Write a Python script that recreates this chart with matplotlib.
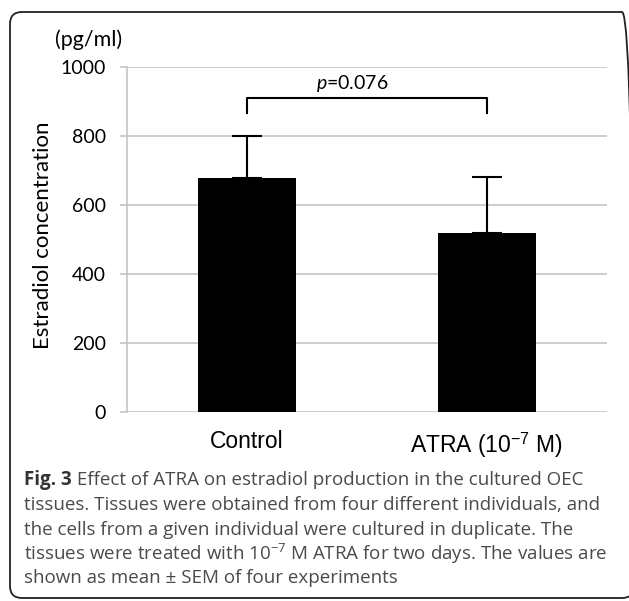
import numpy as np
import matplotlib
matplotlib.use('Agg')
import matplotlib.pyplot as plt
from matplotlib.path import Path
from matplotlib.patches import PathPatch
from matplotlib.transforms import IdentityTransform

# data
groups = ['Control', 'ATRA (10$^{\\mathsf{-7}}$ M)']
means = [677, 519]
sem = [122, 163]
yticks = [0, 200, 400, 600, 800, 1000]
p_label = '$p$=0.076'
bracket_top = 910
bracket_bottom = 866

caption = [
    'tissues. Tissues were obtained from four different individuals, and',
    'the cells from a given individual were cultured in duplicate. The',
    'tissues were treated with 10$^{\\mathtt{-7}}$ M ATRA for two days. The values are',
    'shown as mean \u00b1 SEM of four experiments',
]
caption_first = ' Effect of ATRA on estradiol production in the cultured OEC'

plt.rcParams['mathtext.fontset'] = 'custom'
plt.rcParams['mathtext.rm'] = 'Lato'
plt.rcParams['mathtext.it'] = 'Lato:italic'
plt.rcParams['mathtext.sf'] = 'Liberation Sans'
plt.rcParams['mathtext.tt'] = 'Open Sans'

W, H = 629, 601
fig = plt.figure(figsize=(W / 100, H / 100), dpi=100)
ax = fig.add_axes([127 / W, 1 - 412 / H, 480 / W, 345 / H])

x = np.arange(len(groups))
ax.bar(x, means, width=0.41, color='black', zorder=3)
ax.errorbar(x, means, yerr=[np.zeros(len(sem)), sem], fmt='none', ecolor='black',
            elinewidth=1.5, capsize=11, capthick=1.5, zorder=4)

ax.set_xlim(-0.5, 1.5)
ax.set_ylim(0, 1000)
ax.set_yticks(yticks)
ax.set_yticklabels([str(v) for v in yticks], fontfamily='Lato', fontsize=14)
ax.tick_params(axis='y', length=5, width=1.1, color='#c0c0c0', pad=10)
ax.set_xticks(x)
ax.set_xticklabels(groups, fontfamily='Liberation Sans', fontsize=16.5)
ax.tick_params(axis='x', length=0, pad=13)
ax.grid(axis='y', color='#c0c0c0', lw=1.1, zorder=0)
ax.set_axisbelow(True)
for s in ['top', 'right', 'bottom']:
    ax.spines[s].set_visible(False)
ax.spines['left'].set_color('#c0c0c0')
ax.spines['left'].set_linewidth(1.1)

ax.set_ylabel('Estradiol concentration', fontfamily='Lato', fontsize=16)
ax.yaxis.set_label_coords(-0.154, 0.513)

# significance bracket
ax.plot([x[0], x[0], x[1], x[1]], [bracket_bottom, bracket_top, bracket_top, bracket_bottom],
        color='black', lw=1.5, solid_joinstyle='round', clip_on=False, zorder=5)
ax.text(0.44, 952, p_label, ha='center', va='center', fontfamily='Lato', fontsize=14)

fig.text(89 / W, 1 - 40 / H, '(pg/ml)', ha='center', va='center', fontfamily='Lato', fontsize=15.5)

# caption
cap_x = 24 / W
cap_y = [480, 505, 530, 554, 578]
cap_size = 13.5
t0 = fig.text(cap_x, 1 - cap_y[0] / H, 'Fig. 3', fontfamily='Open Sans', fontweight='bold',
              fontsize=cap_size, color='#333333', va='center')
fig.canvas.draw()
bb = t0.get_window_extent()
fig.text(bb.x1 / W, 1 - cap_y[0] / H, caption_first, fontfamily='Open Sans', fontsize=cap_size,
         color='#4a4a4a', va='center')
for yy, line in zip(cap_y[1:], caption):
    fig.text(cap_x, 1 - yy / H, line, fontfamily='Open Sans', fontsize=cap_size,
             color='#4a4a4a', va='center')

# rounded frame
x0, y0, x1, y1, r = 10, H - 598, 634, H - 12, 12
verts = [(x0 + r, y0), (x1 - r, y0), (x1, y0), (x1, y0 + r), (x1, y1 - r), (x1, y1),
         (x1 - r, y1), (x0 + r, y1), (x0, y1), (x0, y1 - r), (x0, y0 + r), (x0, y0),
         (x0 + r, y0)]
codes = [Path.MOVETO, Path.LINETO, Path.CURVE3, Path.CURVE3, Path.LINETO, Path.CURVE3,
         Path.CURVE3, Path.LINETO, Path.CURVE3, Path.CURVE3, Path.LINETO, Path.CURVE3,
         Path.CURVE3]
fig.patches.append(PathPatch(Path(verts, codes), transform=IdentityTransform(),
                             facecolor='none', edgecolor='#222222', lw=1.3))

fig.savefig('out.png', dpi=100)
